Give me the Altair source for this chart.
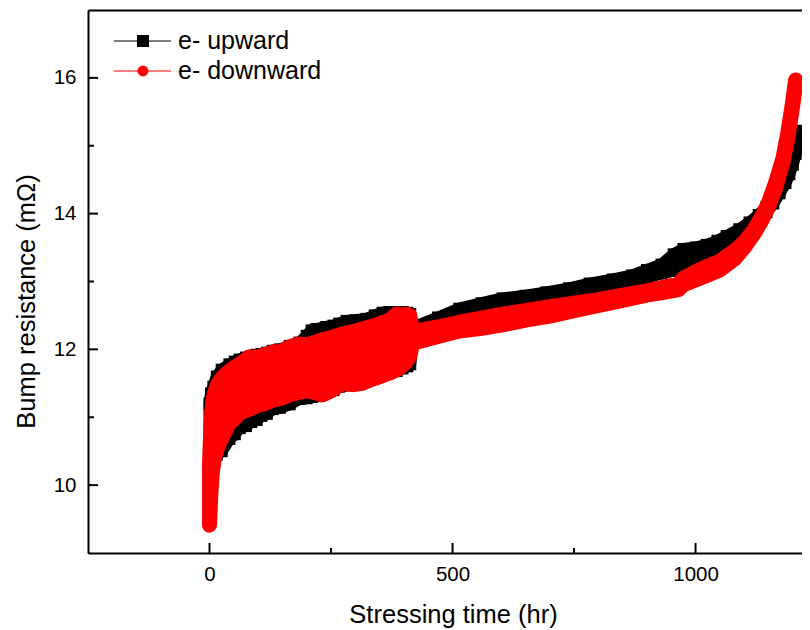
import altair as alt
import pandas as pd

# ---------------- data ----------------
series = ["e- upward", "e- downward"]
colors = ["#000000", "#ff0000"]

# e- upward (black squares): time, lower and upper edge of the scatter band
up_t = [0, 3, 8, 15, 25, 41, 52, 62, 75, 86, 97, 107, 118, 130, 145, 165, 185, 200, 210, 220,
        240, 255, 267, 282, 300, 323, 340, 356, 370, 385, 397, 407, 413,
        420, 470, 514, 560, 603, 650, 693, 740, 782, 830, 870, 900, 930, 955, 975, 1000, 1023,
        1045, 1064, 1090, 1111, 1130, 1146, 1160, 1173, 1185, 1193, 1200, 1206, 1210]
up_lo = [10.25, 10.35, 10.42, 10.45, 10.5, 10.68, 10.75, 10.84, 10.87, 10.93, 10.96, 11.02, 11.05,
         11.12, 11.14, 11.19, 11.27, 11.28, 11.3, 11.31, 11.36, 11.4, 11.45, 11.47, 11.5, 11.53,
         11.58, 11.64, 11.66, 11.68, 11.72, 11.75, 11.78,
         12.23, 12.36, 12.5, 12.58, 12.65, 12.7, 12.74, 12.8, 12.87, 12.93, 12.99, 13.06, 13.12,
         13.16, 13.2, 13.28, 13.38, 13.47, 13.55, 13.67, 13.77, 13.9, 14.02, 14.15, 14.3, 14.45,
         14.58, 14.72, 14.88, 15.05]
up_hi = [11.2, 11.35, 11.45, 11.6, 11.7, 11.78, 11.82, 11.85, 11.88, 11.9, 11.92, 11.93, 11.95,
         11.98, 12.0, 12.05, 12.1, 12.2, 12.28, 12.3, 12.33, 12.35, 12.38, 12.42, 12.43, 12.45,
         12.5, 12.54, 12.55, 12.55, 12.55, 12.54, 12.52,
         12.33, 12.47, 12.6, 12.68, 12.75, 12.79, 12.84, 12.9, 12.97, 13.03, 13.09, 13.17, 13.25,
         13.4, 13.48, 13.5, 13.54, 13.6, 13.67, 13.77, 13.87, 13.98, 14.1, 14.22, 14.36, 14.52,
         14.65, 14.8, 14.98, 15.22]

# e- downward (red circles)
dn_t = [0, 3, 6, 10, 18, 27, 41, 52, 62, 82, 97, 112, 130, 148, 165, 185, 200, 220, 232, 253,
        274, 295, 315, 330, 344, 358, 370, 385, 397, 405, 412,
        418, 470, 514, 560, 603, 650, 700, 750, 796, 850, 899, 935, 965, 975, 1010, 1050, 1080,
        1100, 1120, 1135, 1150, 1165, 1180, 1190, 1198, 1203, 1206]
dn_lo = [9.41, 9.9, 10.2, 10.4, 10.58, 10.72, 10.91, 10.98, 11.06, 11.12, 11.17, 11.2, 11.25,
         11.28, 11.33, 11.37, 11.39, 11.36, 11.33, 11.4, 11.5, 11.48, 11.5, 11.55, 11.58, 11.62,
         11.65, 11.7, 11.76, 11.82, 11.9,
         12.09, 12.19, 12.27, 12.31, 12.36, 12.43, 12.49, 12.57, 12.64, 12.72, 12.8, 12.84, 12.88,
         12.95, 13.05, 13.17, 13.33, 13.5, 13.7, 13.88, 14.1, 14.38, 14.76, 15.12, 15.5, 15.75, 15.9]
dn_hi = [10.3, 10.9, 11.2, 11.35, 11.5, 11.59, 11.68, 11.74, 11.78, 11.89, 11.88, 11.92, 11.96,
         11.97, 12.04, 12.08, 12.07, 12.11, 12.14, 12.18, 12.23, 12.26, 12.3, 12.33, 12.36, 12.4,
         12.43, 12.52, 12.5, 12.52, 12.5,
         12.26, 12.33, 12.4, 12.46, 12.52, 12.57, 12.63, 12.68, 12.73, 12.8, 12.86, 12.92, 12.96,
         13.05, 13.18, 13.3, 13.45, 13.58, 13.76, 13.94, 14.16, 14.46, 14.82, 15.2, 15.56, 15.82, 15.97]

x_major = [0, 500, 1000]
x_minor = [250, 750]
y_major = [10, 12, 14, 16]
y_minor = [11, 13, 15]

# ---------------- layout ----------------
W, H = 714, 543
FONT = "Liberation Sans"

xs = alt.Scale(domain=[-250, 1219], nice=False, zero=False)
ys = alt.Scale(domain=[9, 17], nice=False, zero=False)

up = pd.DataFrame({"t": up_t, "lo": up_lo, "hi": up_hi})
dn = pd.DataFrame({"t": dn_t, "lo": dn_lo, "hi": dn_hi})


def band(df, color, shape, size, sw):
    base = alt.Chart(df)
    area = base.mark_area(color=color, stroke=color, strokeWidth=sw, strokeJoin="round",
                          opacity=1).encode(
        x=alt.X("t:Q", scale=xs, axis=None),
        y=alt.Y("lo:Q", scale=ys, axis=None),
        y2="hi:Q",
    )
    pts = base.transform_fold(["lo", "hi"], as_=["k", "r"]).mark_point(
        shape=shape, filled=True, size=size, color=color, opacity=1, strokeWidth=0).encode(
        x=alt.X("t:Q", scale=xs, axis=None),
        y=alt.Y("r:Q", scale=ys, axis=None),
    )
    return [area, pts]


black = band(up, colors[0], "square", 144, 12)
red = band(dn, colors[1], "circle", 177, 15)

ymaj = alt.Chart(pd.DataFrame({"v": y_major})).mark_rule(color="black", strokeWidth=2).encode(
    y=alt.Y("v:Q", scale=ys,
            axis=alt.Axis(orient="left", values=y_major, format="d", ticks=False, tickSize=0,
                          labelPadding=12, domain=True, grid=False,
                          title="Bump resistance (m\u03a9)", titleX=-61.5, titleY=291,
                          titleAngle=270, titleBaseline="middle", titleAlign="center")),
    x=alt.value(0), x2=alt.value(10),
)
# an empty right-hand axis keeps the y axes separate (so the left one is not merged away)
ymin = alt.Chart(pd.DataFrame({"v": y_minor})).mark_rule(color="black", strokeWidth=2).encode(
    y=alt.Y("v:Q", scale=ys,
            axis=alt.Axis(orient="right", labels=False, ticks=False, domain=False, grid=False,
                          title="")),
    x=alt.value(0), x2=alt.value(6),
)
xmaj = alt.Chart(pd.DataFrame({"v": x_major})).mark_rule(color="black", strokeWidth=2).encode(
    x=alt.X("v:Q", scale=xs,
            axis=alt.Axis(orient="bottom", values=x_major, format="d", ticks=False, tickSize=0,
                          labelPadding=11, domain=True, grid=False,
                          title="Stressing time (hr)", titleX=365, titleY=69,
                          titleBaseline="alphabetic", titleAlign="center")),
    y=alt.value(H), y2=alt.value(H - 10),
)
xmin = alt.Chart(pd.DataFrame({"v": x_minor})).mark_rule(color="black", strokeWidth=2).encode(
    x=alt.X("v:Q", scale=xs,
            axis=alt.Axis(orient="top", labels=False, ticks=False, domain=True, grid=False,
                          title="")),
    y=alt.value(H), y2=alt.value(H - 5),
)

# ---------------- legend (inside, top-left) ----------------
leg = []
leg_shapes = ["square", "circle"]
leg_sizes = [144, 120]
for i, name in enumerate(series):
    ld = pd.DataFrame({"label": [name]})
    yc = 31 + 30 * i
    leg.append(alt.Chart(ld).mark_rule(color=colors[i], strokeWidth=1.2).encode(
        x=alt.value(26), x2=alt.value(83), y=alt.value(yc)))
    leg.append(alt.Chart(ld).mark_point(shape=leg_shapes[i], filled=True, size=leg_sizes[i],
                                        color=colors[i], opacity=1, strokeWidth=0).encode(
        x=alt.value(55), y=alt.value(yc)))
    leg.append(alt.Chart(ld).mark_text(align="left", baseline="alphabetic", font=FONT,
                                       fontSize=25, color="black").encode(
        x=alt.value(90), y=alt.value(yc + 8), text="label:N"))

chart = alt.layer(ymaj, ymin, xmaj, xmin, *black, *red, *leg).properties(
    width=W, height=H,
    autosize=alt.AutoSizeParams(type="none"),
    padding={"left": 80, "top": 2, "right": 0, "bottom": 76},
).configure_view(stroke=None).configure_axis(
    labelFont=FONT, labelFontSize=20.5, labelColor="black",
    titleFont=FONT, titleFontSize=25.5, titleColor="black", titleFontWeight="normal",
    domainColor="black", domainWidth=2, grid=False,
)

chart.save("out.html", embed_options={"renderer": "svg", "actions": False})
